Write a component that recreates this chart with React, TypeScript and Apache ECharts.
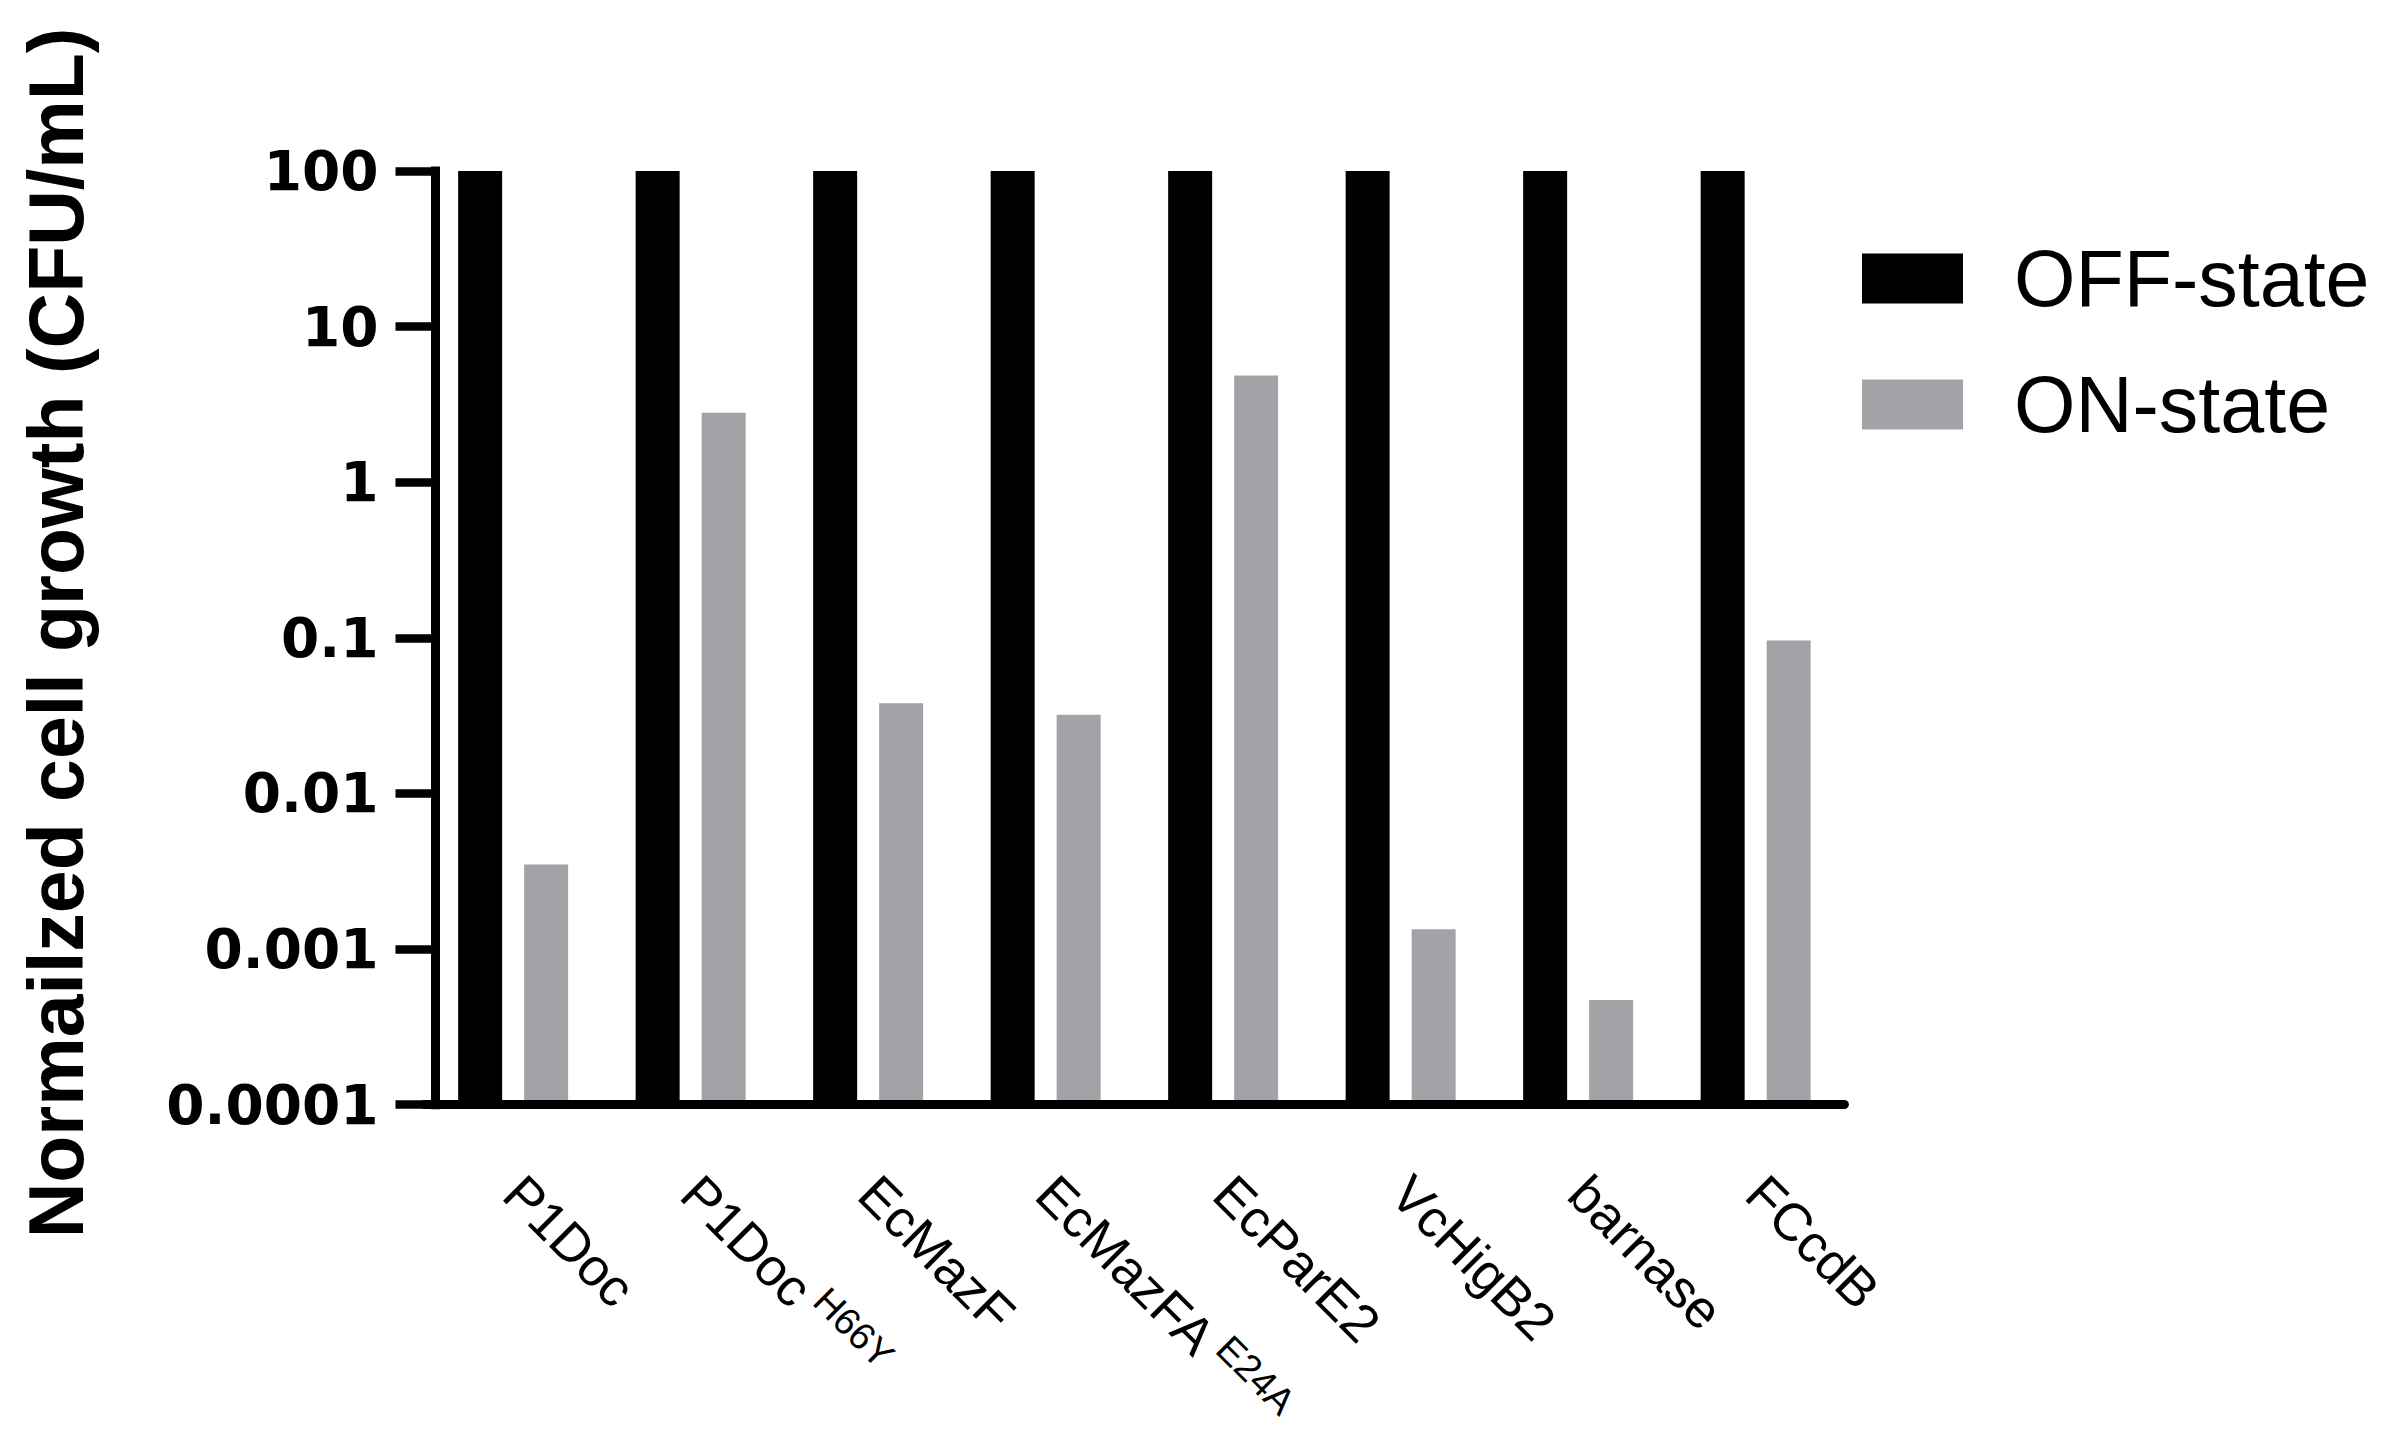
import React, { useEffect, useRef } from "react";
import * as echarts from "echarts";

const categories = [
  "P1Doc",
  "P1Doc^H66Y",
  "EcMazF",
  "EcMazFA^E24A",
  "EcParE2",
  "VcHigB2",
  "barnase",
  "FCcdB",
];
const offState = [100, 100, 100, 100, 100, 100, 100, 100];
const onState = [0.0035, 2.8, 0.038, 0.032, 4.85, 0.00134, 0.00047, 0.096];
const seriesNames = ["OFF-state", "ON-state"];
const yTickLabels = ["0.0001", "0.001", "0.01", "0.1", "1", "10", "100"];
const yTitle = "Normailzed cell growth (CFU/mL)";

export default function App() {
  const ref = useRef<HTMLDivElement>(null);
  useEffect(() => {
    if (!ref.current) return;
    const chart = echarts.init(ref.current, undefined, { renderer: "svg" });
    const gridLeft = 424.4;
    const gridTop = 171;
    const gridWidth = 1420;
    const gridHeight = 933.7;
    chart.setOption({
      animation: false,
      backgroundColor: "#ffffff",
      grid: {
        left: gridLeft,
        top: gridTop,
        width: gridWidth,
        height: gridHeight,
        containLabel: false,
      },
      legend: {
        orient: "vertical",
        left: 1857,
        top: 234,
        itemWidth: 101,
        itemHeight: 50,
        itemGap: 47,
        icon: "rect",
        data: seriesNames,
        textStyle: {
          fontFamily: "Liberation Sans",
          fontSize: 79,
          color: "#000",
          padding: [0, 0, 0, 46],
        },
      },
      graphic: [
        {
          type: "text",
          x: 56,
          y: 633,
          rotation: Math.PI / 2,
          style: {
            text: yTitle,
            fontFamily: "Liberation Sans",
            fontWeight: "bold",
            fontSize: 77,
            fill: "#000",
            textAlign: "center",
            textVerticalAlign: "middle",
          },
        },
      ],
      xAxis: {
        type: "category",
        data: categories,
        z: 5,
        axisLine: { lineStyle: { color: "#000", width: 9 } },
        axisTick: {
          alignWithLabel: true,
          length: 40,
          lineStyle: { color: "#000", width: 9 },
        },
        axisLabel: {
          rotate: -45,
          margin: 80,
          interval: 0,
          formatter: (v: string) => {
            const parts = v.split("^");
            return parts.length > 1
              ? `{b|${parts[0]}}{s|${parts[1]}}`
              : `{b|${parts[0]}}`;
          },
          rich: {
            b: {
              fontFamily: "Liberation Sans",
              fontSize: 53,
              color: "#000000",
              lineHeight: 66,
            },
            s: {
              fontFamily: "Liberation Sans",
              fontSize: 38,
              color: "#000000",
              lineHeight: 38,
              verticalAlign: "top",
              padding: [0, 0, 0, 10],
            },
          },
        },
      },
      yAxis: {
        type: "log",
        logBase: 10,
        min: 0.0001,
        max: 100,
        interval: 1,
        startValue: 0.0001,
        offset: -11.1,
        z: 5,
        splitLine: { show: false },
        axisLine: {
          show: true,
          lineStyle: { color: "#000", width: 9, cap: "square" },
        },
        axisTick: {
          show: true,
          length: 40,
          lineStyle: { color: "#000", width: 8.5 },
        },
        axisLabel: {
          margin: 57,
          fontFamily: "DejaVu Sans",
          fontWeight: "bold",
          fontSize: 55,
          color: "#000",
          formatter: (v: number) => {
            const idx = Math.round(Math.log10(v)) + 4;
            return yTickLabels[idx] ?? "";
          },
        },
      },
      series: [
        {
          name: seriesNames[0],
          type: "bar",
          data: offState,
          barWidth: 44,
          barGap: "50%",
          itemStyle: { color: "#000000" },
        },
        {
          name: seriesNames[1],
          type: "bar",
          data: onState,
          barWidth: 44,
          barGap: "50%",
          itemStyle: { color: "#a3a2a7" },
        },
      ],
    });
    return () => chart.dispose();
  }, []);
  return (
    <div
      ref={ref}
      style={{ position: "absolute", left: 0, top: 0, width: 2387, height: 1446 }}
    />
  );
}
